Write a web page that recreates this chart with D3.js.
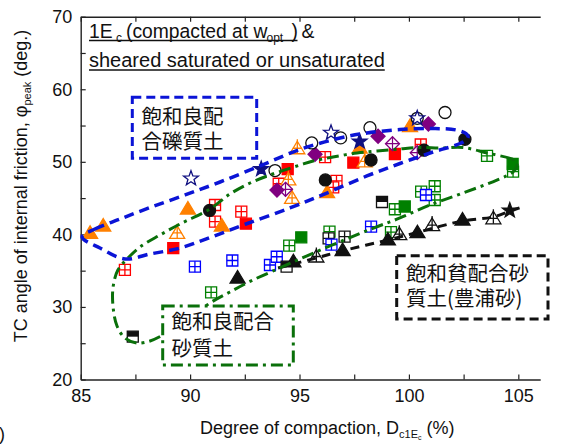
<!DOCTYPE html>
<html><head><meta charset="utf-8">
<script src="https://cdn.jsdelivr.net/npm/d3@7"></script>
<style>body{margin:0;background:#fff}svg{display:block}</style>
</head><body><svg id="c" width="576" height="445"></svg>
<script>
// ---------- data ----------
const xTicks=[85,90,95,100,105];
const yTicks=[20,30,40,50,60,70];

const navyOpenStar=[[90.04,47.7],[96.44,54.0],[100.38,56.0]];
const navyStar=[[93.25,49.0],[97.75,52.8]];
const openCircle=[[93.88,48.8],[95.56,52.6],[96.88,53.3],[98.22,54.7],[100.38,56.0],[101.65,56.8]];
const blackCircle=[[90.89,43.3],[96.18,47.5],[98.27,50.25],[100.69,51.6],[102.56,53.1]];
const orangeTri=[[85.43,40.15],[86.03,41.15],[89.9,43.5],[91.45,41.15],[96.26,45.75],[97.75,51.9],[100.05,54.85]];
const orangeCrossTri=[[89.41,40.15],[94.9,51.8],[94.49,47.5],[94.66,44.97],[97.98,49.98]];
const redSquare=[[89.23,38.1],[92.55,41.47],[94.46,49.0],[97.46,49.88],[99.36,51.08]];
const redGrid=[[87.02,35.1],[91.14,44.05],[91.14,41.75],[92.34,43.13],[94.05,46.98],[96.17,50.64],[96.69,47.38],[96.54,46.49],[100.54,52.39]];
const purpleDiamond=[[93.97,46.1],[95.71,51.04],[98.59,53.52],[100.89,55.21]];
const purpleCrossDiamond=[[94.36,46.21],[99.25,52.5],[100.38,51.26]];
const greenGrid=[[90.96,32.0],[94.53,38.44],[96.37,40.37],[99.18,40.3],[99.36,43.46],[100.56,45.88],[101.18,46.63],[101.18,44.74],[103.57,50.83],[104.76,48.64]];
const greenSquare=[[95.08,39.6],[99.81,43.84],[104.74,49.7]];
const blueGrid=[[90.22,35.55],[91.93,36.4],[93.65,35.78],[93.96,36.92],[96.46,38.58],[98.27,41.06],[100.78,45.43]];
const blackHalfSquare=[[94.41,35.55],[98.77,44.46],[87.38,25.9]];
const blackGrid=[[97.06,39.68],[96.33,39.46]];
const blackTri=[[92.17,33.99],[94.72,36.23],[96.97,37.78],[99.04,39.23],[100.39,40.23],[102.45,41.98]];
const blackCrossTri=[[95.77,36.88],[99.56,39.96],[101.06,41.22],[103.86,42.15]];
const blackStar=[[104.61,43.29]];

const blueEnvelope=[[85.06,39.64],[85.65,40.74],[86.8,42.12],[88.17,43.7],[89.77,45.43],[91.37,47.22],[93.29,49.56],[95.02,51.7],[96.85,53.28],[98.08,53.97],[99.59,54.45],[101.1,54.59],[102.15,54.39],[102.61,53.9],[102.7,53.35],[102.38,52.59],[101.1,51.35],[99.59,49.77],[98.08,48.05],[96.25,45.7],[94.56,43.64],[92.55,41.43],[90.91,39.57],[89.54,38.12],[88.17,37.3],[87.03,36.61],[85.88,38.12]];
const greenEnvelope=[[104.94,49.97],[104.71,50.39],[103.57,51.22],[102.47,51.97],[101.42,51.9],[100.51,51.97],[99.59,51.77],[98.54,51.49],[97.63,51.22],[96.53,50.66],[95.62,50.11],[95.02,49.56],[93.65,48.18],[92.74,47.08],[91.82,45.56],[90.91,43.5],[89.54,41.43],[88.62,39.91],[87.71,38.26],[87.16,36.74],[86.7,35.09],[86.48,32.75],[86.48,29.99],[86.66,27.37],[87.02,25.72],[87.57,25.03],[88.17,25.31],[88.76,26.13],[89.77,27.92],[90.91,30.54],[91.82,32.06],[92.87,33.71],[94.1,35.37],[95.02,36.61],[96.39,38.4],[98.27,40.74],[99.59,42.26],[100.96,44.05],[102.47,45.7],[104.02,47.49],[104.76,48.6],[104.94,49.56]];
const blackTrend=[[94.02,35.37],[95.75,36.74],[96.94,37.71],[99.04,39.23],[100.37,40.26],[102.43,41.84],[103.84,42.4],[104.62,43.22],[105.17,43.77]];

// ---------- chart ----------
const svg=d3.select('#c');
const FONT='"Liberation Sans", Arial, sans-serif';
const CJK='"Noto Sans CJK JP", sans-serif';
const x=d3.scaleLinear().domain([85,106]).range([80.7,540.2]);
const y=d3.scaleLinear().domain([20,70]).range([379.5,16.7]);

const xMinor=d3.range(85,106,2.5);
const yMinor=d3.range(20,70.01,5);
function styleAxis(g){
  g.select('.domain').attr('stroke','#222').attr('stroke-width',1.4);
  g.selectAll('.tick line').attr('stroke','#222').attr('stroke-width',1.2);
  g.selectAll('text').attr('font-family',FONT).attr('font-size',18).attr('fill','#111');
}
svg.append('g').attr('transform',`translate(0,${y(20)})`)
  .call(d3.axisBottom(x).tickValues(xMinor).tickSize(-5).tickSizeOuter(0).tickPadding(9.5)
  .tickFormat(d=>xTicks.includes(d)?d:'')).call(styleAxis);
svg.append('g').attr('transform',`translate(0,${y(70)})`)
  .call(d3.axisTop(x).tickValues(xMinor).tickSize(-5).tickSizeOuter(0).tickFormat('')).call(styleAxis);
svg.append('g').attr('transform',`translate(${x(85)},0)`)
  .call(d3.axisLeft(y).tickValues(yMinor).tickSize(-5).tickSizeOuter(0).tickPadding(8.5)
  .tickFormat(d=>yTicks.includes(d)?d:'')).call(styleAxis);

// markers
const starPath=(R,r)=>{let p='';for(let i=0;i<10;i++){const a=-Math.PI/2+i*Math.PI/5;const rr=i%2?r:R;p+=(i?'L':'M')+(rr*Math.cos(a)).toFixed(2)+','+(rr*Math.sin(a)).toFixed(2);}return p+'Z';};
const SH={
  circle:'M6,0A6,6 0 1,1 -6,0A6,6 0 1,1 6,0Z',
  square:'M-5.5,-5.5H5.5V5.5H-5.5Z',
  tri:'M0,-7.5L7.5,5L-7.5,5Z',
  star:starPath(7.8,3.2),
  diamond:'M0,-7L7,0L0,7L-7,0Z'
};
function draw(data,shape,fill,stroke,extra){
  const g=svg.append('g');
  const m=g.selectAll('g').data(data).join('g').attr('transform',d=>`translate(${x(d[0])},${y(d[1])})`);
  m.append('path').attr('d',SH[shape]).attr('fill',fill).attr('stroke',stroke).attr('stroke-width',1.3);
  if(extra==='grid'){m.append('path').attr('d','M0,-5.5V5.5M-5.5,0H5.5').attr('stroke',stroke).attr('stroke-width',1.3);}
  if(extra==='cross'){m.append('path').attr('d','M0,-9.5V5M-4.5,-0.5H4.5').attr('stroke',stroke).attr('stroke-width',1.3);}
  if(extra==='dcross'){m.append('path').attr('d','M0,-7V7M-7,0H7').attr('stroke',stroke).attr('stroke-width',1.2);}
  if(extra==='half'){m.append('path').attr('d','M-5.5,-5.5H5.5V0H-5.5Z').attr('fill',stroke);}
}
const NAVY='#101080',ORANGE='#ff8000',RED='#ff0000',PURPLE='#800080',GREEN='#008000',BLUE='#0000ff';
draw(redGrid,'square','#fff',RED,'grid');
draw(redSquare,'square',RED,RED);
draw(greenGrid,'square','#fff',GREEN,'grid');
draw(greenSquare,'square',GREEN,GREEN);
draw(blackGrid,'square','#fff','#111','grid');
draw(blueGrid,'square','#fff',BLUE,'grid');
draw(blackHalfSquare,'square','#fff','#111','half');
draw(orangeCrossTri,'tri','#fff',ORANGE,'cross');
draw(orangeTri,'tri',ORANGE,ORANGE);
draw(purpleCrossDiamond,'diamond','#fff',PURPLE,'dcross');
draw(purpleDiamond,'diamond',PURPLE,PURPLE);
draw(blackCrossTri,'tri','#fff','#111','cross');
draw(blackTri,'tri','#111','#111');
draw(openCircle,'circle','#fff','#111');
draw(blackCircle,'circle','#111','#111');
draw(navyOpenStar,'star','none',NAVY);
draw(navyStar,'star',NAVY,NAVY);
draw(blackStar,'star','#111','#111');

// envelopes
const loop=d3.line().x(d=>x(d[0])).y(d=>y(d[1])).curve(d3.curveCatmullRomClosed.alpha(0.5));
const open=d3.line().x(d=>x(d[0])).y(d=>y(d[1])).curve(d3.curveCatmullRom.alpha(0.5));
svg.append('path').attr('d',open(blackTrend)).attr('fill','none').attr('stroke','#111').attr('stroke-width',3).attr('stroke-dasharray','9,6');
svg.append('path').attr('d',loop(greenEnvelope)).attr('fill','none').attr('stroke','#0a700a').attr('stroke-width',3).attr('stroke-dasharray','12,5,3,5');
svg.append('path').attr('d',loop(blueEnvelope)).attr('fill','none').attr('stroke','#0b14d6').attr('stroke-width',3.5).attr('stroke-dasharray','10,6');

// annotation boxes (one text element per box, lines as tspans)
function box(x0,y0,x1,y1,stroke,dash,lines,tx,ty,lh){
  svg.append('rect').attr('x',x0).attr('y',y0).attr('width',x1-x0).attr('height',y1-y0)
    .attr('fill','#fff').attr('stroke',stroke).attr('stroke-width',3).attr('stroke-dasharray',dash);
  const t=svg.append('text').attr('font-family',CJK).attr('font-size',20.5).attr('fill','#111');
  lines.forEach((s,i)=>t.append('tspan').attr('x',tx).attr('y',ty+i*lh).text(s));
}
box(132.3,97.3,256.7,158.3,'#0b14d6','9,5',['飽和良配','合礫質土'],141.5,123.5,25);
box(162.7,306,293.3,365,'#0a700a','12,5,3,5',['飽和良配合','砂質土'],171.5,328.5,27);
box(396.7,255.7,548,319,'#111','9,5',['飽和貧配合砂','質土(豊浦砂)'],406,281,24.5);

// title (two lines in one text element)
const tt=svg.append('text').attr('font-family',FONT).attr('font-size',19.3).attr('fill','#111');
tt.append('tspan').attr('x',89).attr('y',38).text('1E');
tt.append('tspan').attr('x',116).attr('y',42).attr('font-size',12).text('c');
tt.append('tspan').attr('x',126).attr('y',38).text('(compacted at w');
tt.append('tspan').attr('x',266.5).attr('y',42).attr('font-size',12).text('opt');
tt.append('tspan').attr('x',291.5).attr('y',38).text(')');
tt.append('tspan').attr('x',301.5).attr('y',38).text('&');
tt.append('tspan').attr('x',89).attr('y',66.5).attr('font-size',20).text('sheared saturated or unsaturated');
const w2=tt.node().lastChild.getComputedTextLength();
svg.append('line').attr('x1',89).attr('x2',297.5).attr('y1',40.5).attr('y2',40.5).attr('stroke','#111').attr('stroke-width',1.4);
svg.append('line').attr('x1',89).attr('x2',89+w2).attr('y1',70).attr('y2',70).attr('stroke','#111').attr('stroke-width',1.4);

// axis titles
const yl=svg.append('text').attr('transform','translate(27,186) rotate(-90)').attr('text-anchor','middle')
  .attr('font-family',FONT).attr('font-size',18).attr('fill','#111');
yl.append('tspan').text('TC angle of internal friction, φ');
yl.append('tspan').attr('font-size',11).attr('dy',4).text('peak');
yl.append('tspan').attr('dy',-4).text(' (deg.)');
const xl=svg.append('text').attr('x',200).attr('y',434).attr('font-family',FONT).attr('font-size',18).attr('fill','#111');
xl.append('tspan').text('Degree of compaction, D');
xl.append('tspan').attr('font-size',11).attr('dy',4).text('c1E');
xl.append('tspan').attr('font-size',7).attr('dy',2).text('c');
xl.append('tspan').attr('dy',-6).text(' (%)');
svg.append('text').attr('x',-1).attr('y',440).attr('font-family',FONT).attr('font-size',18).attr('fill','#111').text(')');
</script></body></html>
